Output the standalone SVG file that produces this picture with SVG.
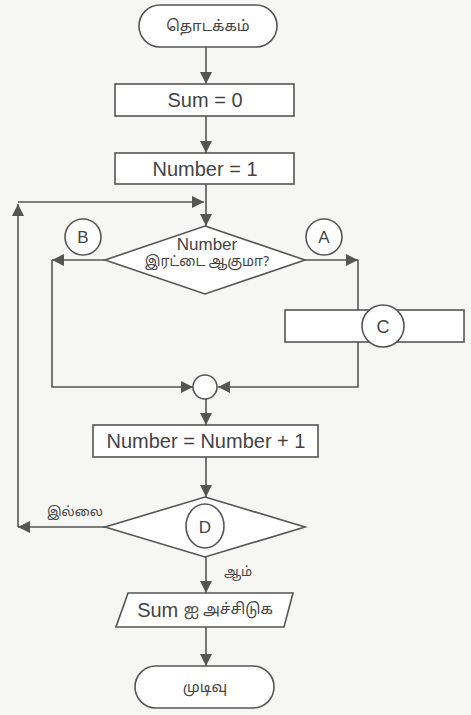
<svg xmlns="http://www.w3.org/2000/svg" width="471" height="715" viewBox="0 0 471 715">
<defs>
<marker id="ah" viewBox="0 0 10 10" refX="10" refY="5" markerWidth="12" markerHeight="12" markerUnits="userSpaceOnUse" orient="auto">
<path d="M0,0 L10,5 L0,10 Z" fill="#555"/>
</marker>
<style>
.s{fill:#fff;stroke:#555;stroke-width:1.6}
.c{fill:none;stroke:#555;stroke-width:1.6}
.t{font-family:"Liberation Sans",Arial,"Noto Sans Tamil","Lohit Tamil",sans-serif;fill:#444;text-anchor:middle;dominant-baseline:central}
.ta{font-family:"Noto Sans Tamil","Lohit Tamil","Latha","Liberation Sans",sans-serif;fill:#444;text-anchor:middle;dominant-baseline:central}
</style>
</defs>
<rect width="471" height="715" fill="#f6f6f4"/>
<g id="connectors">
<line class="c" x1="206" y1="47" x2="206" y2="84" marker-end="url(#ah)"/>
<line class="c" x1="206" y1="116" x2="206" y2="153" marker-end="url(#ah)"/>
<line class="c" x1="206" y1="184" x2="206" y2="226" marker-end="url(#ah)"/>
<polyline class="c" points="105,260 52,260" marker-end="url(#ah)"/>
<polyline class="c" points="52,260 52,387 193,387" marker-end="url(#ah)"/>
<polyline class="c" points="305,260 358,260" marker-end="url(#ah)"/>
<polyline class="c" points="358,260 358,387 218,387" marker-end="url(#ah)"/>
<line class="c" x1="206" y1="399" x2="206" y2="425" marker-end="url(#ah)"/>
<line class="c" x1="206" y1="457" x2="206" y2="497" marker-end="url(#ah)"/>
<polyline class="c" points="105,527 18,527" marker-end="url(#ah)"/>
<polyline class="c" points="18,527 18,204" marker-end="url(#ah)"/>
<polyline class="c" points="18,202 204,202" marker-end="url(#ah)"/>
<line class="c" x1="206" y1="557" x2="206" y2="593" marker-end="url(#ah)"/>
<line class="c" x1="206" y1="627" x2="206" y2="666" marker-end="url(#ah)"/>
</g>
<g id="start">
<rect class="s" x="139" y="5" width="138" height="42" rx="21"/>
<text class="ta" x="208" y="27" font-size="15">தொடக்கம்</text>
</g>
<g id="sum0">
<rect class="s" x="115" y="84" width="179" height="32"/>
<text class="t" x="205" y="100" font-size="20">Sum = 0</text>
</g>
<g id="num1">
<rect class="s" x="115" y="153" width="179" height="31"/>
<text class="t" x="205" y="169" font-size="20">Number = 1</text>
</g>
<g id="decision1">
<polygon class="s" points="205,226 305,260 205,294 105,260"/>
<text class="t" x="207" y="244" font-size="17">Number</text>
<text class="ta" x="207" y="262" font-size="14">இரட்டை  ஆகுமா?</text>
</g>
<g id="connB">
<ellipse class="s" cx="83" cy="237" rx="18" ry="18"/>
<text class="t" x="83" y="237" font-size="17">B</text>
</g>
<g id="connA">
<ellipse class="s" cx="324" cy="237" rx="18" ry="18"/>
<text class="t" x="324" y="237" font-size="17">A</text>
</g>
<g id="boxC">
<rect class="s" x="285" y="310" width="179" height="32"/>
<ellipse class="s" cx="383" cy="326" rx="21" ry="21"/>
<text class="t" x="383" y="327" font-size="18">C</text>
</g>
<g id="junction">
<circle class="s" cx="205" cy="387" r="12"/>
</g>
<g id="increment">
<rect class="s" x="93" y="425" width="225" height="32"/>
<text class="t" x="206" y="441" font-size="20">Number = Number + 1</text>
</g>
<g id="decisionD">
<polygon class="s" points="205,497 305,527 205,557 105,527"/>
<ellipse class="s" cx="205" cy="526" rx="19" ry="22"/>
<text class="t" x="205" y="527" font-size="17">D</text>
<text class="ta" x="75" y="513" font-size="13">இல்லை</text>
<text class="ta" x="238" y="573" font-size="13">ஆம்</text>
</g>
<g id="print">
<polygon class="s" points="128,593 293,593 284,627 116,627"/>
<text class="t" x="205" y="610" font-size="20"><tspan>Sum </tspan><tspan font-family="Noto Sans Tamil, Lohit Tamil, sans-serif" font-size="15">ஐ அச்சிடுக</tspan></text>
</g>
<g id="end">
<rect class="s" x="135" y="666" width="139" height="42" rx="21"/>
<text class="ta" x="205" y="688" font-size="15">முடிவு</text>
</g>
</svg>
